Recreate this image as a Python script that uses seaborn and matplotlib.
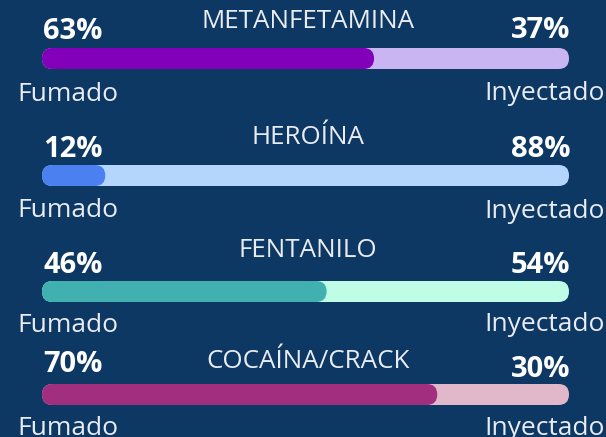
import numpy as np
import seaborn as sns
import matplotlib.pyplot as plt
from matplotlib.patches import FancyBboxPatch

# data
drogas = ["METANFETAMINA", "HEROÍNA", "FENTANILO", "COCAÍNA/CRACK"]
fumado = [63, 12, 46, 70]
inyectado = [37, 88, 54, 30]
# length of the dark fill as drawn in the picture (% of the bar)
relleno = [63, 12, 54, 75]
etiqueta_izq = "Fumado"
etiqueta_der = "Inyectado"

# colours per row: (dark, light)
colores = [("#8200b9", "#c8b5f2"), ("#4a80f0", "#b4d5fd"),
           ("#40b0b0", "#c0fde6"), ("#a22e80", "#e0b8c9")]
fondo = "#0d3863"

# layout in pixels (y from top): bar top, title, left %, right %, Fumado, Inyectado baselines
W, H = 606, 437
bar_x0, bar_x1, bar_h = 42, 569, 21
filas = [(48, 28, 39, 38, 101, 100),
         (165, 144, 157, 157, 217, 218),
         (281, 257, 273, 273, 332, 331),
         (384, 368, 372, 377, 435, 435)]


def main():
    sns.set_theme(style="white")
    plt.rcParams['font.family'] = ['Open Sans', 'DejaVu Sans']
    fig = plt.figure(figsize=(W / 100, H / 100), dpi=100, facecolor=fondo)

    def txt(x, y, s, **kw):
        fig.text(x / W, 1 - y / H, s, va="baseline", **kw)

    px_x = (bar_x1 - bar_x0) / 100
    aspect = px_x / bar_h
    r = 10.4 / px_x

    for i, (top, y_t, y_l, y_r, y_f, y_i) in enumerate(filas):
        ax = fig.add_axes([bar_x0 / W, 1 - (top + bar_h) / H, (bar_x1 - bar_x0) / W, bar_h / H])
        dark, light = colores[i]
        total = fumado[i] + inyectado[i]
        sns.barplot(x=[total], y=[drogas[i]], color=light, width=1, saturation=1, ax=ax)
        sns.barplot(x=[relleno[i]], y=[drogas[i]], color=dark, width=1, saturation=1, ax=ax)
        ax.set_xlim(0, 100)
        ax.set_ylim(0.5, -0.5)
        ax.axis("off")
        # swap the flat bars for rounded ones
        for p in list(ax.patches):
            x0, y0 = p.get_xy()
            fb = FancyBboxPatch((x0, y0), p.get_width(), p.get_height(),
                                boxstyle=f"round,pad=0,rounding_size={r}",
                                mutation_aspect=aspect, fc=p.get_facecolor(), ec="none")
            p.remove()
            ax.add_patch(fb)

        txt(W / 2 + 5, y_t, drogas[i], ha="center", fontsize=18.7, color="#e9ecf2")
        txt(bar_x0 + 1, y_l, f"{fumado[i]}%", ha="left", fontsize=21, fontweight="bold", color="white")
        txt(bar_x1 + 1, y_r, f"{inyectado[i]}%", ha="right", fontsize=21, fontweight="bold", color="white")
        txt(17, y_f, etiqueta_izq, ha="left", fontsize=19, color="#e9ecf2")
        txt(605, y_i, etiqueta_der, ha="right", fontsize=19, color="#e9ecf2")

    fig.savefig("out.png", dpi=100, facecolor=fondo)


if __name__ == "__main__":
    main()
